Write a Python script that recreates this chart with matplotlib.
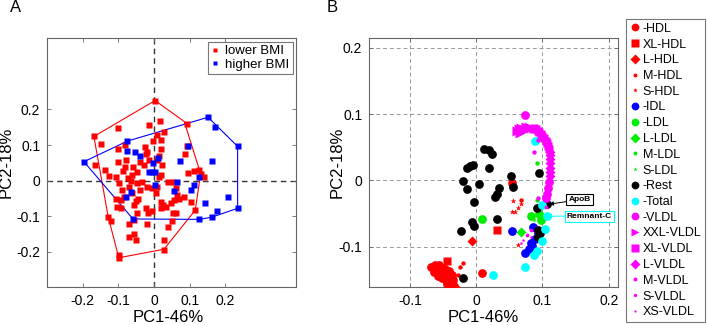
import matplotlib
matplotlib.use("Agg")
import matplotlib.pyplot as plt
from matplotlib.lines import Line2D
import numpy as np

plt.rcParams["font.family"] = ["Liberation Sans", "DejaVu Sans"]

# ---------------- panel A data ----------------
lower_x = [0.003, 0.017, -0.014, -0.101, -0.169, -0.149, -0.100, -0.081, -0.026, -0.019,
           0.007, 0.028, 0.019, -0.002, 0.021, 0.014, 0.023, 0.094, 0.092, 0.087,
           -0.167, -0.139, -0.101, -0.127, -0.106, -0.086, -0.072, -0.058, -0.047, -0.028,
           -0.014, -0.023, -0.038, 0.007, 0.021, 0.014, 0.009, 0.005, 0.019, 0.026,
           0.035, 0.047, 0.056, 0.064, 0.071, 0.085, 0.103, 0.116, 0.131, 0.141,
           0.113, 0.127, 0.096, 0.054, 0.038, 0.061, -0.099, -0.089, -0.070, -0.061,
           -0.049, -0.033, -0.019, -0.005, -0.103, -0.094, -0.052, -0.056, -0.049, -0.022,
           -0.005, -0.016, 0.019, 0.052, 0.061, -0.130, -0.120, -0.071, -0.056, -0.019,
           -0.071, -0.056, -0.052, 0.050, 0.038, 0.028, 0.028, -0.099, -0.098, -0.108,
           -0.094, -0.045, -0.066, -0.083, -0.038, -0.061, -0.082, -0.078]
lower_y = [0.225, 0.167, 0.156, 0.147, 0.124, 0.102, 0.090, 0.100, 0.094, 0.079,
           0.128, 0.136, 0.115, 0.110, 0.090, 0.068, 0.044, 0.159, 0.098, 0.074,
           0.043, 0.030, 0.052, 0.013, 0.009, 0.028, 0.008, 0.039, 0.023, 0.044,
           0.058, 0.075, 0.052, 0.058, 0.016, 0.011, -0.017, -0.036, -0.059, -0.069,
           -0.075, -0.064, -0.055, -0.041, -0.053, -0.045, -0.060, -0.083, 0.019, 0.011,
           0.028, 0.030, 0.020, -0.004, -0.003, -0.020, -0.006, -0.026, -0.017, -0.036,
           -0.008, -0.003, -0.019, -0.021, -0.073, -0.078, -0.057, -0.069, -0.092, -0.078,
           -0.085, -0.092, -0.078, -0.092, -0.092, -0.103, -0.113, -0.122, -0.111, -0.123,
           -0.158, -0.149, -0.168, -0.114, -0.130, -0.166, -0.194, -0.209, -0.217, -0.053,
           -0.054, -0.052, -0.001, -0.045, -0.026, 0.016, 0.039, 0.058]

higher_x = [0.152, 0.171, 0.235, 0.164, 0.235, 0.207, 0.178, 0.162, 0.127, 0.143,
            0.096, 0.074, -0.075, -0.076, -0.054, -0.038, -0.002, 0.011, -0.014, -0.005,
            0.002, 0.002, 0.066, 0.056, 0.103, 0.113, 0.127, -0.066, -0.080, -0.059,
            -0.197]
higher_y = [0.178, 0.150, 0.096, 0.054, -0.078, -0.045, -0.085, -0.103, -0.109, -0.064,
            0.096, 0.054, 0.110, 0.083, 0.079, 0.068, 0.050, 0.064, 0.025, 0.025,
            0.025, -0.013, -0.004, -0.030, -0.026, -0.012, 0.009, -0.032, -0.047, -0.108,
            0.053]

lower_hull_x = [0.003, 0.085, 0.131, 0.116, 0.028, -0.099, -0.129, -0.169, 0.003]
lower_hull_y = [0.225, 0.166, 0.019, -0.083, -0.193, -0.217, -0.101, 0.124, 0.225]
higher_hull_x = [0.152, 0.235, 0.235, 0.162, 0.127, -0.059, -0.197, -0.075, 0.152]
higher_hull_y = [0.178, 0.096, -0.078, -0.103, -0.109, -0.108, 0.053, 0.111, 0.178]

# ---------------- panel B data ----------------
hdl_x = [-0.068, -0.062, -0.060, -0.056, -0.052, -0.055, -0.050, -0.047, -0.045, -0.058,
         -0.052, -0.046, -0.042, -0.040, -0.044, -0.038, -0.035, -0.033, -0.030, -0.036,
         -0.041, -0.064, 0.008, 0.054]
hdl_y = [-0.130, -0.127, -0.135, -0.128, -0.132, -0.140, -0.138, -0.134, -0.141, -0.145,
         -0.147, -0.150, -0.145, -0.152, -0.156, -0.158, -0.150, -0.160, -0.164, -0.143,
         -0.136, -0.138, -0.140, -0.004]
xl_hdl_x = [-0.044, 0.032]
xl_hdl_y = [-0.122, -0.075]
l_hdl_x = [-0.006]
l_hdl_y = [-0.091]
m_hdl_x = [-0.020, -0.024, -0.027, 0.067]
m_hdl_y = [-0.125, -0.131, -0.143, -0.030]
s_hdl_x = [0.056, 0.063, 0.067, 0.054, 0.059, 0.063]
s_hdl_y = [-0.031, -0.041, -0.036, -0.048, -0.048, -0.098]

idl_x = [0.054, 0.085, 0.083, 0.074, 0.079, 0.084, 0.089, 0.093]
idl_y = [-0.076, -0.071, -0.095, -0.109, -0.103, -0.099, -0.088, -0.080]

ldl_x = [0.009, 0.082, 0.098, 0.094]
ldl_y = [-0.058, -0.054, -0.060, -0.050]
l_ldl_x = [0.068]
l_ldl_y = [-0.078]
m_ldl_x = [0.092, 0.091, 0.102]
m_ldl_y = [0.026, -0.029, -0.035]
s_ldl_x = [0.098, 0.087]
s_ldl_y = [-0.042, -0.060]

rest_x = [0.012, 0.020, 0.024, 0.019, -0.014, -0.009, -0.005, -0.020, -0.014, 0.004,
          -0.003, 0.032, 0.035, 0.028, 0.053, 0.055, 0.032, -0.007, -0.003, -0.023,
          0.094, 0.107, 0.091, 0.093, 0.093, 0.096, -0.020]
rest_y = [0.047, 0.046, 0.040, 0.019, 0.018, 0.022, 0.023, -0.001, -0.013, -0.006,
          -0.032, -0.021, -0.011, -0.025, 0.007, -0.010, -0.058, -0.063, -0.069, -0.076,
          0.011, -0.036, -0.042, -0.075, -0.086, -0.080, -0.147]

total_x = [0.025, 0.073, 0.087, 0.091, 0.099, 0.104, 0.107, 0.099, 0.088]
total_y = [-0.143, -0.130, -0.113, -0.107, -0.091, -0.073, -0.054, -0.037, 0.059]

vldl_x = [0.073, 0.110, 0.109, 0.107, 0.105]
vldl_y = [0.099, -0.002, -0.012, -0.020, -0.027]
xxl_vldl_x = [0.062, 0.064, 0.066, 0.068, 0.070, 0.072, 0.075, 0.077, 0.080, 0.082]
xxl_vldl_y = [0.074, 0.078, 0.072, 0.079, 0.075, 0.077, 0.080, 0.078, 0.081, 0.079]
xl_vldl_x = [0.085, 0.087, 0.090, 0.093, 0.095, 0.098, 0.100, 0.103, 0.105, 0.107, 0.109, 0.110]
xl_vldl_y = [0.077, 0.079, 0.078, 0.075, 0.073, 0.070, 0.067, 0.064, 0.060, 0.056, 0.052, 0.048]
l_vldl_x = [0.111, 0.111, 0.112, 0.112, 0.112, 0.111, 0.111]
l_vldl_y = [0.043, 0.038, 0.032, 0.026, 0.018, 0.012, 0.006]
m_vldl_x = [0.087, 0.093, 0.093]
m_vldl_y = [0.043, 0.061, -0.027]
s_vldl_x = [0.082, 0.077, 0.105]
s_vldl_y = [-0.075, -0.083, -0.040]
xs_vldl_x = [0.071, 0.067, 0.082]
xs_vldl_y = [-0.090, -0.094, -0.085]

# ---------------- figure ----------------
fig = plt.figure(figsize=(7.07, 3.25), dpi=100)
axA = fig.add_axes([0.0669, 0.116, 0.3522, 0.7662])
axB = fig.add_axes([0.5223, 0.116, 0.3522, 0.7662])

spine_col = "#666666"
for ax in (axA, axB):
    for sp in ax.spines.values():
        sp.set_color(spine_col)
        sp.set_linewidth(0.8)
    ax.tick_params(direction="in", length=3, width=0.6, color=spine_col,
                   top=True, right=True, labelsize=10, pad=5)
    ax.set_xlabel("PC1-46%", fontsize=12, labelpad=1)
    ax.set_ylabel("PC2-18%", fontsize=12, labelpad=2)

# panel A
axA.set_xlim(-0.3, 0.4)
axA.set_ylim(-0.3, 0.4)
axA.set_xticks([-0.2, -0.1, 0, 0.1, 0.2])
axA.set_yticks([-0.2, -0.1, 0, 0.1, 0.2])
axA.set_xticklabels(["-0.2", "-0.1", "0", "0.1", "0.2"])
axA.set_yticklabels(["-0.2", "-0.1", "0", "0.1", "0.2"])
axA.axvline(0, color="#333333", ls=(0, (4, 3)), lw=1.0, zorder=1)
axA.axhline(0, color="#333333", ls=(0, (4, 3)), lw=1.0, zorder=1)
axA.plot(lower_hull_x, lower_hull_y, color="#ff0000", lw=0.8, zorder=2)
axA.plot(higher_hull_x, higher_hull_y, color="#0000ff", lw=0.8, zorder=2)
axA.plot(lower_x, lower_y, "s", color="#ff0000", ms=5.0, mec="none", zorder=3, label="lower BMI")
axA.plot(higher_x, higher_y, "s", color="#0000ff", ms=5.0, mec="none", zorder=4, label="higher BMI")
legA = axA.legend(loc="upper right", fontsize=9.5, handlelength=0.6, handletextpad=0.5,
                  borderpad=0.25, labelspacing=0.1, borderaxespad=0.25, fancybox=False,
                  markerscale=0.7)
legA.get_frame().set_edgecolor("#555555")
legA.get_frame().set_linewidth(0.8)
axA.xaxis.set_label_coords(0.484, -0.09)
axA.yaxis.set_label_coords(-0.135, 0.5)

# panel B
lim = (-0.1613, 0.2143)
axB.set_xlim(lim)
axB.set_ylim(lim)
axB.set_xticks([-0.1, 0, 0.1, 0.2])
axB.set_yticks([-0.1, 0, 0.1, 0.2])
axB.set_xticklabels(["-0.1", "0", "0.1", "0.2"])
axB.set_yticklabels(["-0.1", "0", "0.1", "0.2"])
axB.grid(True, color="#999999", ls=(0, (4, 3)), lw=0.7)
axB.set_axisbelow(True)
axB.xaxis.set_label_coords(0.457, -0.09)
axB.yaxis.set_label_coords(-0.1, 0.5)

R, Bc, G, K, C, M = "#ff0000", "#0000ff", "#00ee00", "#000000", "#00ffff", "#ff00ff"
groups = [
    ("-HDL", hdl_x, hdl_y, "o", R, 7),
    ("XL-HDL", xl_hdl_x, xl_hdl_y, "s", R, 7),
    ("L-HDL", l_hdl_x, l_hdl_y, "D", R, 6),
    ("M-HDL", m_hdl_x, m_hdl_y, "o", R, 3.5),
    ("S-HDL", s_hdl_x, s_hdl_y, "*", R, 4.5),
    ("-IDL", idl_x, idl_y, "o", Bc, 7),
    ("-LDL", ldl_x, ldl_y, "o", G, 7),
    ("L-LDL", l_ldl_x, l_ldl_y, "D", G, 6),
    ("M-LDL", m_ldl_x, m_ldl_y, "o", G, 3.5),
    ("S-LDL", s_ldl_x, s_ldl_y, "*", G, 4),
    ("-Rest", rest_x, rest_y, "o", K, 7),
    ("-Total", total_x, total_y, "o", C, 7),
    ("-VLDL", vldl_x, vldl_y, "o", M, 7),
    ("XXL-VLDL", xxl_vldl_x, xxl_vldl_y, ">", M, 7.5),
    ("XL-VLDL", xl_vldl_x, xl_vldl_y, "s", M, 6.5),
    ("L-VLDL", l_vldl_x, l_vldl_y, "D", M, 6),
    ("M-VLDL", m_vldl_x, m_vldl_y, "o", M, 3.5),
    ("S-VLDL", s_vldl_x, s_vldl_y, "o", M, 3),
    ("XS-VLDL", xs_vldl_x, xs_vldl_y, "o", M, 2),
]
draw_order = [10, 12, 13, 14, 15, 0, 1, 2, 3, 4, 6, 7, 8, 9, 5, 11, 16, 17, 18]
for i in draw_order:
    name, gx, gy, mk, col, ms = groups[i]
    axB.plot(gx, gy, mk, color=col, ms=ms * 0.9, mec="none", zorder=3 + i * 0.01)

handles = [Line2D([], [], ls="none", marker=mk, color=col, ms=ms * 0.8, mec="none")
           for name, gx, gy, mk, col, ms in groups]
labels = [g[0] for g in groups]
legB = fig.legend(handles, labels, loc="upper left", bbox_to_anchor=(626 / 707, 1 - 19 / 325),
                  fontsize=9, handlelength=0.8, handletextpad=0.25, borderpad=0.3,
                  labelspacing=0.3, borderaxespad=0, fancybox=False)
legB.get_frame().set_edgecolor("#555555")
legB.get_frame().set_linewidth(0.8)

# annotations
axB.annotate("ApoB", xy=(0.110, -0.036), xytext=(0.156, -0.029), fontsize=6, fontweight="bold",
             ha="center", va="center", annotation_clip=False,
             bbox=dict(boxstyle="square,pad=0.25", fc="white", ec="black", lw=0.8),
             arrowprops=dict(arrowstyle="-|>", color="black", lw=0.7, mutation_scale=6,
                             shrinkA=0, shrinkB=0))
axB.annotate("Remnant-C", xy=(0.107, -0.054), xytext=(0.171, -0.054), fontsize=6, fontweight="bold",
             ha="center", va="center", annotation_clip=False,
             bbox=dict(boxstyle="square,pad=0.25", fc="white", ec=C, lw=0.8),
             arrowprops=dict(arrowstyle="-|>", color=C, lw=0.7, mutation_scale=6,
                             shrinkA=0, shrinkB=0))

fig.text(10 / 707, 1 - 8 / 325, "A", fontsize=12, ha="left", va="center")
fig.text(327 / 707, 1 - 8 / 325, "B", fontsize=12, ha="left", va="center")

fig.savefig("out.png", dpi=100)
